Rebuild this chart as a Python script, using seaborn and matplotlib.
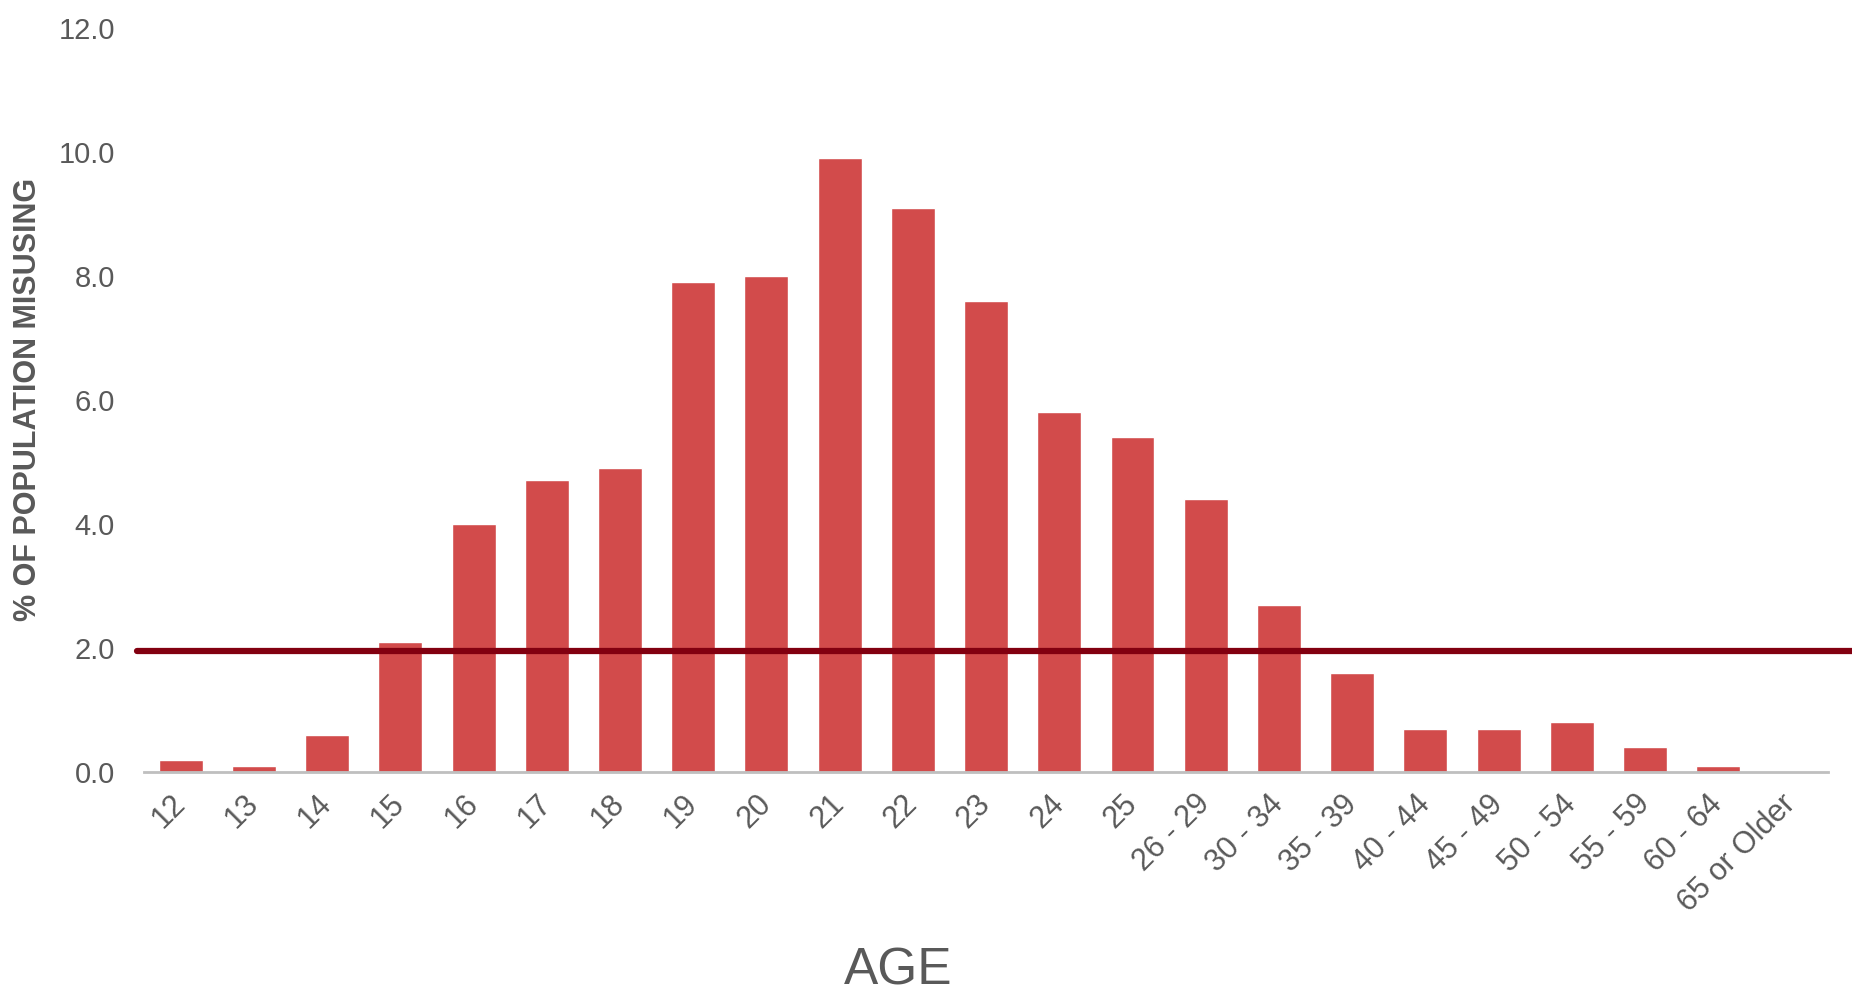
import pandas as pd
import seaborn as sns
import matplotlib.pyplot as plt
from matplotlib.ticker import FormatStrFormatter

ages = ["12", "13", "14", "15", "16", "17", "18", "19", "20", "21", "22", "23",
        "24", "25", "26 - 29", "30 - 34", "35 - 39", "40 - 44", "45 - 49",
        "50 - 54", "55 - 59", "60 - 64", "65 or Older"]
pct_misusing = [0.2, 0.1, 0.6, 2.1, 4.0, 4.7, 4.9, 7.9, 8.0, 9.9, 9.1, 7.6,
                5.8, 5.4, 4.4, 2.7, 1.6, 0.7, 0.7, 0.8, 0.4, 0.1, 0.0]
average_line = 1.95
y_ticks = [0, 2, 4, 6, 8, 10, 12]

df = pd.DataFrame({"Age": ages, "Pct": pct_misusing})

sns.set_theme(style="white")
plt.rcParams["font.family"] = ["Liberation Sans", "DejaVu Sans"]

fig = plt.figure(figsize=(18.52, 9.93), dpi=100)
ax = fig.add_axes([0.0778, 0.2226, 0.9093, 0.7494])

sns.barplot(data=df, x="Age", y="Pct", color="#D24B4B", saturation=1,
            width=0.6, ax=ax)

# average line, runs a little past the axes on both sides
ax.axhline(average_line, xmin=-0.004, xmax=1.02, color="#820010", lw=4.5,
           clip_on=False, zorder=5)

ax.set_xlim(-0.5, len(ages) - 0.5)
ax.set_ylim(0, 12)
ax.set_yticks(y_ticks)
ax.yaxis.set_major_formatter(FormatStrFormatter("%.1f"))

for side in ["top", "right", "left"]:
    ax.spines[side].set_visible(False)
ax.spines["bottom"].set_color("#BFBFBF")
ax.spines["bottom"].set_linewidth(2)

ax.tick_params(axis="y", length=0, pad=21, labelsize=21, labelcolor="#595959")
ax.tick_params(axis="x", length=0, pad=20, labelsize=22, labelcolor="#595959")
plt.setp(ax.get_xticklabels(), rotation=45, ha="right", va="center",
         rotation_mode="anchor")

ax.set_ylabel("% OF POPULATION MISUSING", fontsize=22, fontweight="bold",
              color="#595959")
ax.yaxis.set_label_coords(-0.06, 0.5)
ax.set_xlabel("AGE", fontsize=37, color="#595959", va="center")
ax.xaxis.set_label_coords(0.448, -0.2675)

fig.savefig("out.png", dpi=100)
